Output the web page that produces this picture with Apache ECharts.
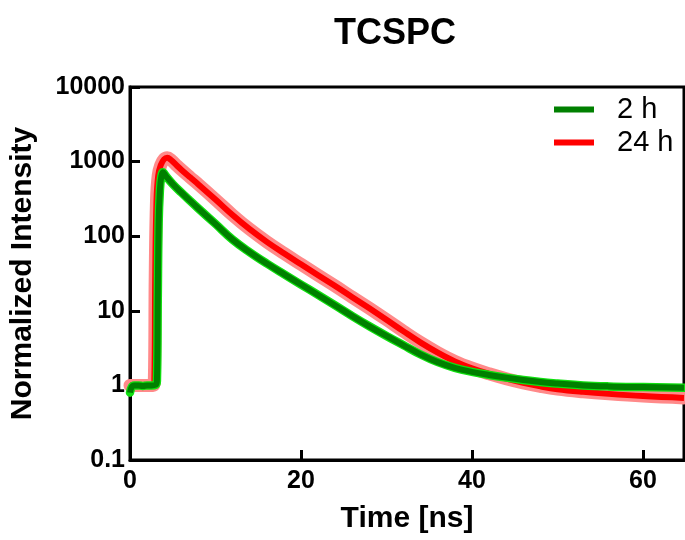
<!DOCTYPE html>
<html>
<head>
<meta charset="utf-8">
<script src="https://cdn.jsdelivr.net/npm/echarts@6/dist/echarts.min.js"></script>
<style>html,body{margin:0;padding:0;background:#fff;}#c{width:685px;height:540px;}</style>
</head>
<body>
<div id="c"></div>
<script>
const seriesNames = ['2 h', '24 h'];
const time2h = [0, 0.2, 0.5, 1, 1.5, 2, 2.5, 3.0, 3.15, 3.25, 3.35, 3.5, 3.65, 3.85, 4.2, 5, 6, 7, 8, 10, 12, 14, 16, 18, 20, 22, 24, 26, 28, 30, 32, 34, 36, 38, 40, 42, 44, 46, 48, 50, 53, 56, 60, 64.8];
const int2h = [0.8, 0.95, 1.0, 1.0, 0.98, 1.0, 1.0, 1.02, 1.15, 15, 150, 420, 620, 720, 640, 500, 385, 300, 235, 146, 90, 61, 43, 31, 22.5, 16.3, 11.8, 8.5, 6.2, 4.6, 3.45, 2.6, 2.05, 1.72, 1.52, 1.38, 1.27, 1.18, 1.11, 1.06, 1.0, 0.97, 0.95, 0.93];
const time24h = [0, 1, 2, 2.7, 2.85, 2.95, 3.1, 3.3, 3.6, 4.0, 4.35, 4.8, 5.5, 6, 7, 8, 10, 12, 14, 16, 18, 20, 22, 24, 26, 28, 30, 32, 34, 36, 38, 40, 42, 44, 46, 48, 50, 53, 56, 60, 64.8];
const int24h = [1.0, 1.0, 1.0, 1.0, 1.2, 30, 300, 650, 900, 1080, 1130, 1050, 880, 780, 620, 495, 310, 192, 124, 84, 59, 42, 30, 21.5, 15.2, 10.8, 7.6, 5.3, 3.75, 2.75, 2.1, 1.7, 1.43, 1.23, 1.08, 0.97, 0.89, 0.82, 0.77, 0.72, 0.68];
const xTicks = [0, 20, 40, 60];
const yTickLabels = ['0.1', '1', '10', '100', '1000', '10000'];

const d2 = time2h.map((t, i) => [t, int2h[i]]);
const d24 = time24h.map((t, i) => [t, int24h[i]]);

const font = '"Liberation Sans", Arial, Helvetica, sans-serif';
const chart = echarts.init(document.getElementById('c'), null, {renderer: 'canvas'});
const common = {type: 'line', showSymbol: false, smooth: 0.4};
chart.setOption({
  animation: false,
  backgroundColor: '#fff',
  title: {
    text: 'TCSPC', left: 329, top: 11,
    textStyle: {fontFamily: font, fontWeight: 'bold', fontSize: 36, color: '#000'}
  },
  legend: {
    data: seriesNames, orient: 'vertical', left: 554, top: 95, padding: 0,
    itemWidth: 40, itemHeight: 6, itemGap: 4, icon: 'rect',
    textStyle: {fontFamily: font, fontSize: 29, color: '#000', lineHeight: 29, padding: [0, 0, 0, 18]}
  },
  grid: {left: 127, top: 87, width: 557, bottom: 80, show: true, borderColor: '#000', borderWidth: 3, containLabel: false},
  xAxis: {
    type: 'value', min: 0, max: 64.8, interval: 20,
    name: 'Time [ns]', nameLocation: 'middle', nameGap: 44,
    nameTextStyle: {fontFamily: font, fontWeight: 'bold', fontSize: 30, color: '#000'},
    axisLine: {show: true, onZero: false, lineStyle: {color: '#000', width: 3}},
    axisTick: {show: true, inside: true, length: 10, lineStyle: {color: '#000', width: 3}},
    splitLine: {show: false},
    axisLabel: {
      fontFamily: font, fontWeight: 'bold', fontSize: 25, color: '#000', margin: 9, showMaxLabel: false,
      formatter: v => (xTicks.indexOf(v) >= 0 ? String(v) : '')
    }
  },
  yAxis: {
    type: 'log', logBase: 10, min: 0.1, max: 10000,
    name: 'Normalized Intensity', nameLocation: 'middle', nameGap: 92, nameRotate: 90,
    nameTextStyle: {fontFamily: font, fontWeight: 'bold', fontSize: 30, color: '#000'},
    axisLine: {show: true, lineStyle: {color: '#000', width: 3}},
    axisTick: {show: true, inside: true, length: 10, lineStyle: {color: '#000', width: 3}},
    splitLine: {show: false},
    minorTick: {show: false},
    axisLabel: {
      fontFamily: font, fontWeight: 'bold', fontSize: 25, color: '#000', margin: 5,
      formatter: v => yTickLabels[Math.round(Math.log10(v)) + 1] || ''
    }
  },
  series: [
    Object.assign({name: '24 h band', data: d24, silent: true, z: 2,
     lineStyle: {color: '#ff8a8a', width: 13, join: 'round', cap: 'round'}, itemStyle: {color: '#ff8a8a'}}, common),
    Object.assign({name: '24 h', data: d24, z: 3, color: '#ff0000',
     lineStyle: {color: '#ff0000', width: 6, join: 'round'}, itemStyle: {color: '#ff0000'}}, common),
    Object.assign({name: '2 h band', data: d2, silent: true, z: 4,
     lineStyle: {color: '#10e010', width: 8.5, join: 'round', cap: 'round'}, itemStyle: {color: '#10e010'}}, common),
    Object.assign({name: '2 h', data: d2, z: 5, color: '#008000',
     lineStyle: {color: '#008000', width: 6, join: 'round'}, itemStyle: {color: '#008000'}}, common)
  ]
});
</script>
</body>
</html>
